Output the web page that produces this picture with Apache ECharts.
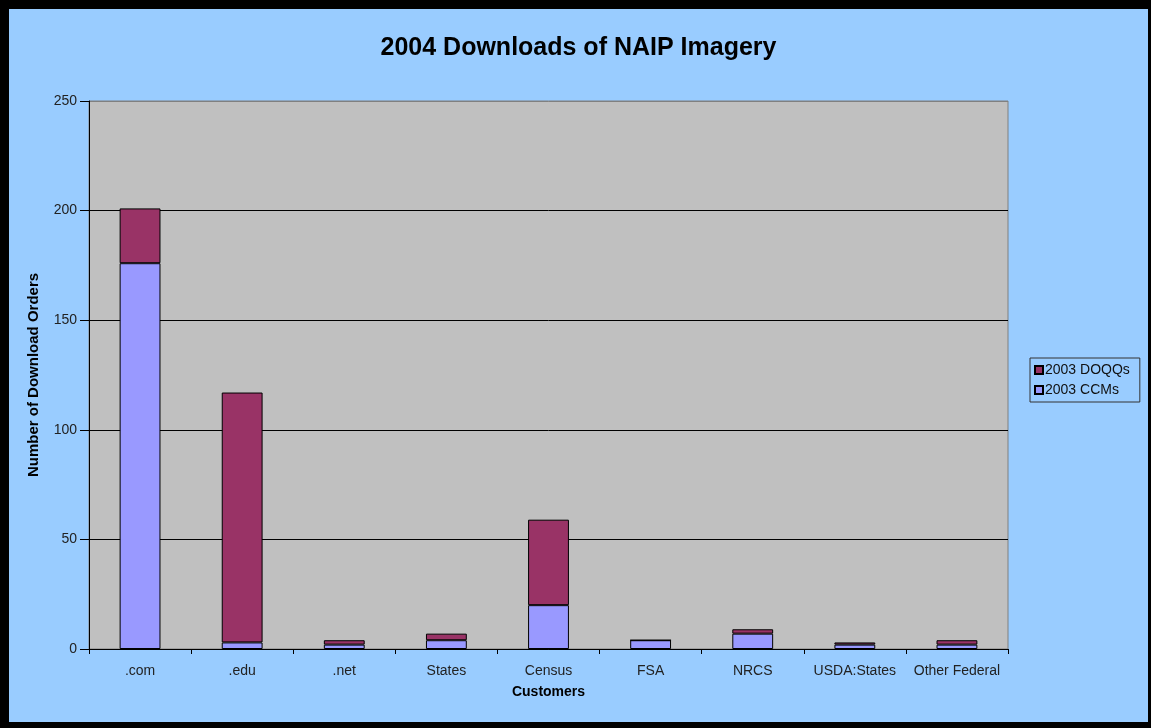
<!DOCTYPE html>
<html>
<head>
<meta charset="utf-8">
<script src="https://cdn.jsdelivr.net/npm/echarts@6/dist/echarts.min.js"></script>
<style>
html,body{margin:0;padding:0;background:#000;width:1151px;height:728px;overflow:hidden;}
#c{position:absolute;left:9px;top:9px;width:1139px;height:713px;background:#99CCFF;}
</style>
</head>
<body>
<div id="c"></div>
<script>
const categories = ['.com', '.edu', '.net', 'States', 'Census', 'FSA', 'NRCS', 'USDA:States', 'Other Federal'];
const ccms = [176, 3, 2, 4, 20, 4, 7, 2, 2];
const doqqs = [25, 114, 2, 3, 39, 0, 2, 1, 2];
const yTicks = { min: 0, max: 250, interval: 50 };

const font = "'Liberation Sans', Arial, sans-serif";
const chart = echarts.init(document.getElementById('c'), null, { renderer: 'canvas' });
chart.setOption({
  backgroundColor: '#99CCFF',
  animation: false,
  title: {
    text: '2004 Downloads of NAIP Imagery',
    left: 'center',
    top: 22,
    textStyle: { fontFamily: font, fontSize: 25, fontWeight: 'bold', color: '#000' }
  },
  legend: {
    orient: 'vertical',
    left: 1021,
    top: 349,
    data: ['2003 DOQQs', '2003 CCMs'],
    icon: 'rect',
    itemWidth: 8,
    itemHeight: 8,
    itemGap: 6,
    padding: [5, 10, 5, 4],
    borderColor: '#333',
    borderWidth: 1,
    backgroundColor: '#99CCFF',
    textStyle: { fontFamily: font, fontSize: 14, color: '#111', padding: [0, 0, 0, -3] }
  },
  grid: {
    left: 80, top: 92, right: 140, bottom: 73,
    show: true, backgroundColor: '#C0C0C0', borderColor: '#808080', borderWidth: 1
  },
  xAxis: {
    type: 'category',
    data: categories,
    name: 'Customers',
    nameLocation: 'middle',
    nameGap: 36,
    nameTextStyle: { fontFamily: font, fontSize: 14, fontWeight: 'bold', color: '#000' },
    axisLine: { lineStyle: { color: '#000', width: 1 } },
    axisTick: { show: true, length: 5, lineStyle: { color: '#000' } },
    axisLabel: { fontFamily: font, fontSize: 14, color: '#222', margin: 15, interval: 0 }
  },
  yAxis: {
    type: 'value',
    min: yTicks.min, max: yTicks.max, interval: yTicks.interval,
    name: 'Number of Download Orders',
    nameLocation: 'middle',
    nameGap: 48,
    nameTextStyle: { fontFamily: font, fontSize: 15, fontWeight: 'bold', color: '#000' },
    axisLine: { show: true, lineStyle: { color: '#000', width: 1 } },
    axisTick: { show: true, inside: false, length: 9, lineStyle: { color: '#000' } },
    axisLabel: { fontFamily: font, fontSize: 14, color: '#222', margin: 12 },
    splitLine: { show: true, lineStyle: { color: ['#000', '#000', '#000', '#000', '#000', '#808080'], width: 1 } }
  },
  series: [
    {
      name: '2003 CCMs', type: 'bar', stack: 'total', data: ccms, barWidth: '40%',
      itemStyle: { color: '#9999FF', borderColor: '#000', borderWidth: 1 }
    },
    {
      name: '2003 DOQQs', type: 'bar', stack: 'total', data: doqqs, barWidth: '40%',
      itemStyle: { color: '#993366', borderColor: '#000', borderWidth: 1 }
    }
  ]
});
</script>
</body>
</html>
